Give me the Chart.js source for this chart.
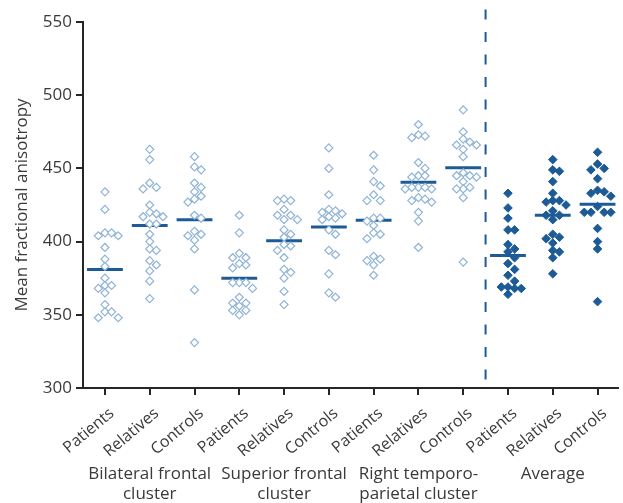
<!DOCTYPE html>
<html>
<head>
<meta charset="utf-8">
<script src="https://cdn.jsdelivr.net/npm/chart.js@4"></script>
<style>
  html, body { margin: 0; padding: 0; background: #fff; }
  #wrap { width: 623px; height: 503px; }
</style>
</head>
<body>
<div id="wrap"><canvas id="chart"></canvas></div>
<script>
// category names along the x axis (one per column)
var categories = ['Patients', 'Relatives', 'Controls', 'Patients', 'Relatives', 'Controls',
                  'Patients', 'Relatives', 'Controls', 'Patients', 'Relatives', 'Controls'];
// labels under each group of three columns
var groupNames = [['Bilateral frontal', 'cluster'], ['Superior frontal', 'cluster'],
                  ['Right temporo-', 'parietal cluster'], ['Average']];

// values, one array per column
var bfPatients  = [434, 422, 406, 406, 404, 404, 396, 388, 383, 375, 370, 370, 368, 365, 357, 352, 352, 348, 348];
var bfRelatives = [463, 456, 440, 437, 436, 425, 420, 419, 417, 417, 412, 412, 405, 400, 395, 394, 387, 384, 380, 373, 361];
var bfControls  = [458, 451, 449, 440, 437, 434, 431, 429, 427, 418, 416, 407, 405, 404, 401, 395, 367, 331];
var sfPatients  = [418, 406, 392, 389, 389, 385, 384, 382, 372, 372, 372, 368, 362, 358, 358, 356, 353, 353, 350];
var sfRelatives = [429, 428, 428, 422, 418, 418, 415, 415, 408, 405, 403, 398, 397, 394, 389, 381, 379, 375, 366, 357];
var sfControls  = [464, 450, 432, 422, 421, 420, 419, 417, 416, 415, 408, 405, 394, 391, 378, 365, 362];
var rtPatients  = [459, 449, 441, 438, 432, 428, 428, 416, 416, 414, 411, 406, 405, 402, 390, 388, 387, 384, 377];
var rtRelatives = [480, 473, 472, 471, 454, 450, 445, 445, 444, 437, 437, 437, 436, 436, 430, 429, 428, 427, 420, 414, 396];
var rtControls  = [490, 475, 470, 468, 466, 466, 463, 458, 447, 445, 445, 444, 441, 437, 436, 436, 430, 386];
var avPatients  = [433, 423, 416, 408, 408, 398, 395, 393, 389, 385, 381, 377, 373, 369, 369, 368, 368, 364];
var avRelatives = [456, 449, 448, 441, 433, 428, 428, 427, 425, 421, 418, 418, 415, 405, 403, 402, 399, 394, 393, 389, 378];
var avControls  = [461, 453, 450, 449, 443, 435, 434, 433, 431, 424, 420, 420, 420, 420, 409, 400, 395, 359];

var columns = [bfPatients, bfRelatives, bfControls, sfPatients, sfRelatives, sfControls,
               rtPatients, rtRelatives, rtControls, avPatients, avRelatives, avControls];

// mean bar for each column
var means = [381, 411, 415, 375, 400.5, 410, 414.5, 440.5, 450.5, 390.5, 418, 425.5];

// y axis ticks
var yTicks = [300, 350, 400, 450, 500, 550];

var textColor = '#3a3a3a';
var axisColor = '#262626';
var openColor = '#8fb3d6';
var darkBlue = '#1c5b96';
var fontFamily = "'Open Sans', 'Liberation Sans', sans-serif";

// spread the points sideways so they dont sit on top of each other (simple beeswarm)
function swarm(values, center) {
    var step = 0.148;   // sideways step, in category units
    var near = 4.5;     // values closer than this collide
    var placed = [];
    var sorted = values.slice().sort(function(a, b) { return b - a; });
    sorted.forEach(function(v) {
        for (var k = 0; k < 20; k++) {
            var slot = k === 0 ? 0 : (k % 2 === 1 ? (k + 1) / 2 : -k / 2);
            var hit = placed.some(function(p) { return p.slot === slot && Math.abs(p.y - v) < near; });
            if (!hit) { placed.push({ slot: slot, y: v }); break; }
        }
    });
    return placed.map(function(p) { return { x: center + p.slot * step, y: p.y }; });
}

var datasets = [];

// dashed separator before the Average group
datasets.push({
    data: [{ x: 9.5, y: 558.5 }, { x: 9.5, y: 300 }],
    showLine: true,
    borderColor: darkBlue,
    borderWidth: 2,
    borderDash: [10, 12.5],
    pointRadius: 0,
    clip: false
});

for (var i = 0; i < columns.length; i++) {
    var isAverage = i >= 9;
    datasets.push({
        data: swarm(columns[i], i + 1),
        pointStyle: 'rectRot',
        pointRadius: isAverage ? 4.3 : 4,
        borderWidth: isAverage ? 1 : 1.2,
        borderColor: isAverage ? darkBlue : openColor,
        backgroundColor: isAverage ? darkBlue : '#ffffff',
        showLine: false
    });
    // mean line
    datasets.push({
        data: [{ x: i + 1 - 0.4, y: means[i] }, { x: i + 1 + 0.4, y: means[i] }],
        showLine: true,
        borderColor: darkBlue,
        borderWidth: 3,
        pointRadius: 0
    });
}

// draws the group names under the rotated labels
var groupLabels = {
    id: 'groupLabels',
    afterDraw: function(chart) {
        var ctx = chart.ctx;
        var xs = chart.scales.x;
        var base = chart.chartArea.bottom;
        ctx.save();
        ctx.font = '17px ' + fontFamily;
        ctx.fillStyle = textColor;
        ctx.textAlign = 'center';
        ctx.textBaseline = 'middle';
        groupNames.forEach(function(lines, g) {
            var x = xs.getPixelForValue(g * 3 + 2);
            lines.forEach(function(line, j) {
                ctx.fillText(line, x, base + 86 + j * 20);
            });
        });
        ctx.restore();
    }
};

new Chart(document.getElementById('chart'), {
    type: 'scatter',
    data: { datasets: datasets },
    plugins: [groupLabels],
    options: {
        responsive: true,
        maintainAspectRatio: false,
        animation: false,
        layout: { padding: { top: 22, right: 0, left: 0, bottom: 0 } },
        plugins: {
            legend: { display: false },
            tooltip: { enabled: false }
        },
        scales: {
            x: {
                type: 'linear',
                min: 0.51,
                max: 12.45,
                afterFit: function(scale) { scale.height = 115; },
                afterBuildTicks: function(scale) {
                    scale.ticks = categories.map(function(c, i) { return { value: i + 1 }; });
                },
                border: { color: axisColor, width: 2 },
                grid: { drawOnChartArea: false, drawTicks: true, tickLength: 7, color: axisColor, lineWidth: 2 },
                ticks: {
                    minRotation: 40,
                    maxRotation: 40,
                    autoSkip: false,
                    padding: 9,
                    labelOffset: 7,
                    color: textColor,
                    font: { family: fontFamily, size: 16 },
                    callback: function(value) { return categories[value - 1]; }
                }
            },
            y: {
                min: 300,
                max: 550,
                afterFit: function(scale) { scale.width = 83; },
                afterBuildTicks: function(scale) {
                    scale.ticks = yTicks.map(function(v) { return { value: v }; });
                },
                border: { color: axisColor, width: 2 },
                grid: { drawOnChartArea: false, drawTicks: true, tickLength: 7, color: axisColor, lineWidth: 2 },
                ticks: {
                    padding: 4,
                    color: textColor,
                    font: { family: fontFamily, size: 17 }
                },
                title: {
                    display: true,
                    text: 'Mean fractional anisotropy',
                    color: textColor,
                    font: { family: fontFamily, size: 17 },
                    padding: { top: 12, bottom: 0 }
                }
            }
        }
    }
});
</script>
</body>
</html>
